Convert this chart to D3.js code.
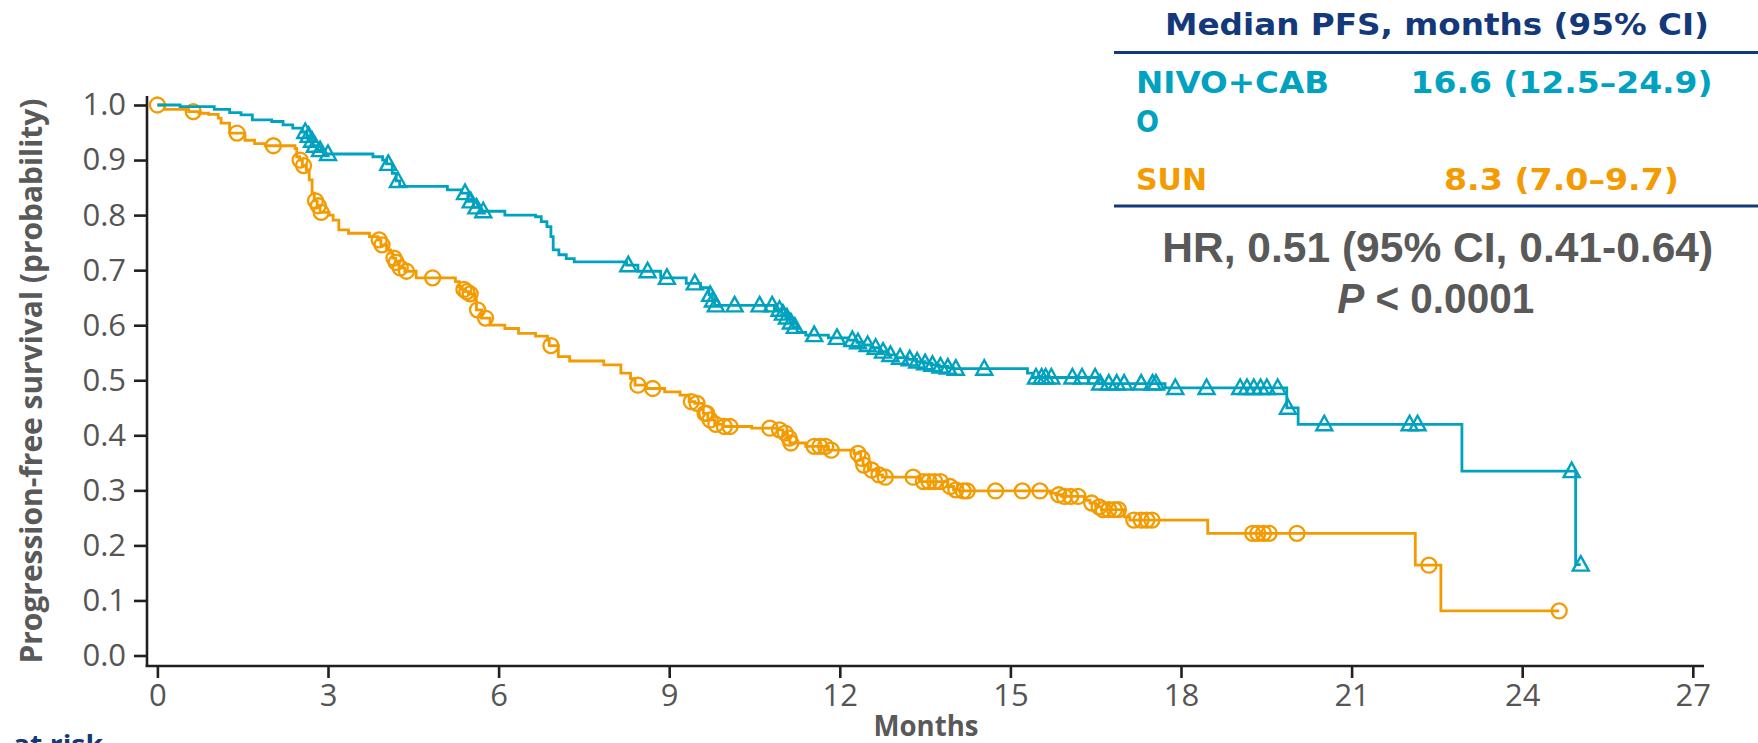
<!DOCTYPE html>
<html>
<head>
<meta charset="utf-8">
<script src="https://cdn.jsdelivr.net/npm/d3@7"></script>
<style>
  html, body { margin: 0; padding: 0; background: #fff; }
  svg { display: block; }
</style>
</head>
<body>
<svg id="chart" width="1758" height="743"></svg>
<script>
// ---------------- DATA ----------------
const xTickValues = [0, 3, 6, 9, 12, 15, 18, 21, 24, 27];
const yTickValues = [0, 0.1, 0.2, 0.3, 0.4, 0.5, 0.6, 0.7, 0.8, 0.9, 1.0];
const yTickLabels = ["0.0","0.1","0.2","0.3","0.4","0.5","0.6","0.7","0.8","0.9","1.0"];

const seriesNames = ["NIVO+CABO", "SUN"];
const medianLabels = ["16.6 (12.5\u201324.9)", "8.3 (7.0\u20139.7)"];
const hrText = "HR, 0.51 (95% CI, 0.41-0.64)";
const pText = "< 0.0001";

// NIVO+CABO Kaplan-Meier steps (months, survival after step)
const nivoStepTimes = [0, 0.40, 1.0, 1.27, 1.47, 1.67, 2.01, 2.21, 2.38, 2.55, 2.63, 2.69, 2.74, 2.82, 2.92,
  3.79, 3.96, 4.03, 4.13, 4.20, 4.26, 5.10, 5.35, 5.46, 5.56, 5.68, 6.11, 6.65, 6.75, 6.85, 6.92, 6.96,
  7.06, 7.19, 7.33, 8.25, 8.45, 8.85, 9.30, 9.55, 9.70, 9.76, 9.80, 10.85, 10.98, 11.05, 11.12, 11.18,
  11.25, 11.40, 11.80, 12.15, 12.30, 12.40, 12.55, 12.70, 12.85, 13.00, 13.20, 13.35, 13.50, 13.62,
  13.75, 13.90, 14.00, 15.30, 15.40, 16.55, 17.72, 19.86, 20.06, 22.94, 24.94];
const nivoStepSurv = [1.0, 0.997, 0.992, 0.986, 0.982, 0.973, 0.970, 0.964, 0.958, 0.951, 0.944, 0.935, 0.926, 0.918, 0.911,
  0.906, 0.900, 0.893, 0.876, 0.862, 0.852, 0.846, 0.840, 0.825, 0.814, 0.807, 0.800, 0.797, 0.788, 0.779, 0.761, 0.737,
  0.728, 0.721, 0.715, 0.709, 0.698, 0.686, 0.676, 0.668, 0.655, 0.645, 0.636, 0.628, 0.621, 0.614, 0.605, 0.597,
  0.587, 0.582, 0.577, 0.573, 0.569, 0.564, 0.559, 0.552, 0.546, 0.541, 0.538, 0.534, 0.531, 0.528,
  0.525, 0.523, 0.521, 0.513, 0.505, 0.494, 0.486, 0.450, 0.420, 0.335, 0.165];
const nivoCensor = [2.60, 2.66, 2.72, 2.77, 2.86, 3.00, 4.06, 4.23, 5.41, 5.51, 5.61, 5.73, 8.28, 8.62, 8.96,
  9.45, 9.72, 9.77, 9.82, 10.15, 10.59, 10.81, 10.94, 11.00, 11.07, 11.14, 11.21, 11.55, 11.95, 12.22, 12.32,
  12.49, 12.63, 12.76, 12.89, 13.06, 13.23, 13.36, 13.50, 13.63, 13.77, 13.90, 14.04, 14.54, 15.45, 15.55,
  15.62, 15.72, 16.09, 16.26, 16.49, 16.58, 16.73, 16.87, 17.00, 17.30, 17.50, 17.56, 17.90, 18.45, 19.04,
  19.16, 19.28, 19.40, 19.51, 19.70, 19.88, 20.52, 22.02, 22.16, 24.87, 25.03];

// SUN Kaplan-Meier steps
const sunStepTimes = [0, 0.13, 0.55, 0.73, 0.90, 1.07, 1.12, 1.27, 1.54, 1.71, 1.90, 2.42, 2.45, 2.50, 2.55,
  2.62, 2.67, 2.72, 2.76, 2.81, 2.86, 3.02, 3.09, 3.19, 3.36, 3.73, 3.88, 3.93, 4.03, 4.10, 4.14, 4.19, 4.25,
  4.35, 4.55, 5.24, 5.31, 5.36, 5.42, 5.47, 5.58, 5.61, 5.70, 5.85, 6.11, 6.35, 6.65, 6.86, 6.89, 7.05, 7.25,
  7.85, 8.15, 8.32, 8.40, 8.60, 8.92, 9.19, 9.35, 9.45, 9.60, 9.68, 9.80, 9.95, 10.45, 10.90, 11.00, 11.08,
  11.12, 11.40, 11.80, 12.25, 12.37, 12.41, 12.50, 12.65, 12.75, 13.40, 13.90, 14.00, 14.10, 15.70, 15.80,
  15.90, 16.30, 16.40, 16.50, 16.60, 17.00, 17.10, 18.47, 22.12, 22.57];
const sunStepSurv = [1.0, 0.992, 0.988, 0.985, 0.983, 0.976, 0.967, 0.949, 0.936, 0.930, 0.926, 0.921, 0.906, 0.900, 0.890,
  0.882, 0.864, 0.840, 0.826, 0.817, 0.805, 0.800, 0.791, 0.773, 0.767, 0.761, 0.755, 0.746, 0.737, 0.731, 0.722, 0.714, 0.704,
  0.698, 0.686, 0.679, 0.670, 0.665, 0.661, 0.657, 0.646, 0.628, 0.613, 0.600, 0.594, 0.585, 0.580, 0.573, 0.563, 0.543, 0.535,
  0.528, 0.513, 0.503, 0.491, 0.485, 0.479, 0.473, 0.461, 0.458, 0.440, 0.428, 0.420, 0.416, 0.413, 0.410, 0.404, 0.395,
  0.386, 0.380, 0.373, 0.367, 0.358, 0.346, 0.337, 0.328, 0.324, 0.316, 0.307, 0.301, 0.299, 0.295, 0.292,
  0.289, 0.282, 0.277, 0.270, 0.265, 0.252, 0.246, 0.222, 0.164, 0.081];
const sunCensor = [0, 0.63, 1.40, 2.04, 2.51, 2.57, 2.78, 2.83, 2.88, 3.90, 3.95, 4.16, 4.20, 4.27, 4.38, 4.84,
  5.39, 5.44, 5.50, 5.63, 5.77, 6.92, 8.45, 8.71, 9.39, 9.49, 9.63, 9.66, 9.72, 9.82, 9.97, 10.07, 10.77,
  10.94, 11.04, 11.11, 11.14, 11.55, 11.65, 11.75, 11.85, 12.32, 12.39, 12.42, 12.56, 12.69, 12.80, 13.29,
  13.47, 13.57, 13.67, 13.77, 13.94, 14.04, 14.17, 14.24, 14.74, 15.21, 15.52, 15.85, 15.95, 16.06, 16.19,
  16.43, 16.56, 16.63, 16.73, 16.83, 16.90, 17.17, 17.30, 17.40, 17.49, 19.26, 19.35, 19.45, 19.55, 20.04,
  22.36, 24.65];

// ---------------- STYLE ----------------
const TEAL = "#00a2bf";
const ORANGE = "#f39b00";
const NAVY = "#14397a";
const GRAY = "#595959";
const AXIS = "#231f20";

const svg = d3.select("#chart");
svg.append("rect").attr("width", 1758).attr("height", 743).attr("fill", "#fff");

const x = d3.scaleLinear().domain([0, 27]).range([157.4, 1692.8]);
const y = d3.scaleLinear().domain([0, 1]).range([655.5, 105]);

// ---------------- AXES ----------------
const yAxis = d3.axisLeft(y).tickValues(yTickValues)
  .tickFormat((d, i) => yTickLabels[i]).tickSize(13).tickPadding(8);
const gy = svg.append("g").attr("transform", "translate(147,0)").call(yAxis);
gy.select(".domain").remove();
gy.selectAll(".tick line").attr("stroke", AXIS).attr("stroke-width", 2.6);
gy.selectAll(".tick text").attr("fill", "#555").attr("font-family", "'Open Sans', sans-serif")
  .attr("font-size", 31);
svg.append("line").attr("x1", 147).attr("x2", 147).attr("y1", 96).attr("y2", 667)
  .attr("stroke", AXIS).attr("stroke-width", 2.6);

const xAxis = d3.axisBottom(x).tickValues(xTickValues).tickSize(12).tickPadding(6);
const gx = svg.append("g").attr("transform", "translate(0,666)").call(xAxis);
gx.select(".domain").remove();
gx.selectAll(".tick line").attr("stroke", AXIS).attr("stroke-width", 2.6);
gx.selectAll(".tick text").attr("fill", "#555").attr("font-family", "'Open Sans', sans-serif")
  .attr("font-size", 31);
svg.append("line").attr("x1", 145.7).attr("x2", 1704).attr("y1", 666).attr("y2", 666)
  .attr("stroke", AXIS).attr("stroke-width", 2.6);

// axis titles
svg.append("text").attr("x", 926).attr("y", 736).attr("text-anchor", "middle")
  .attr("font-family", "'Open Sans', sans-serif").attr("font-weight", 700).attr("font-size", 29)
  .attr("fill", GRAY).attr("textLength", 105).attr("lengthAdjust", "spacingAndGlyphs").text("Months");

svg.append("text").attr("transform", "translate(42,381) rotate(-90)").attr("text-anchor", "middle")
  .attr("font-family", "'Open Sans', sans-serif").attr("font-weight", 700).attr("font-size", 31)
  .attr("fill", GRAY).attr("textLength", 565).attr("lengthAdjust", "spacingAndGlyphs")
  .text("Progression-free survival (probability)");

svg.append("text").attr("x", 13).attr("y", 754)
  .attr("font-family", "'Open Sans', sans-serif").attr("font-weight", 700).attr("font-size", 27)
  .attr("fill", NAVY).attr("textLength", 90).attr("lengthAdjust", "spacingAndGlyphs").text("at risk");

// ---------------- CURVES ----------------
function stepFn(times, surv) {
  return t => { let v = surv[0]; for (let i = 0; i < times.length; i++) { if (times[i] <= t) v = surv[i]; } return v; };
}
const series = [
  { times: nivoStepTimes, surv: nivoStepSurv, censor: nivoCensor, color: TEAL, marker: "tri" },
  { times: sunStepTimes, surv: sunStepSurv, censor: sunCensor, color: ORANGE, marker: "circle" }
];
const line = d3.line().x(d => x(d[0])).y(d => y(d[1])).curve(d3.curveStepAfter);

series.slice().reverse().forEach(s => {
  const S = stepFn(s.times, s.surv);
  const pts = s.times.map((t, i) => [t, s.surv[i]]);
  const tEnd = Math.max(d3.max(s.censor), d3.max(s.times));
  pts.push([tEnd, S(tEnd)]);
  svg.append("path").attr("d", line(pts)).attr("fill", "none")
    .attr("stroke", s.color).attr("stroke-width", 2.8).attr("stroke-linejoin", "miter");
  const g = svg.append("g");
  if (s.marker === "circle") {
    g.selectAll("circle").data(s.censor).join("circle")
      .attr("cx", d => x(d)).attr("cy", d => y(S(d))).attr("r", 7.5)
      .attr("fill", "none").attr("stroke", s.color).attr("stroke-width", 2.3);
  } else {
    g.selectAll("path").data(s.censor).join("path")
      .attr("transform", d => `translate(${x(d)},${y(S(d))})`)
      .attr("d", "M0,-8.5L8,6L-8,6Z")
      .attr("fill", "none").attr("stroke", s.color).attr("stroke-width", 2.4).attr("stroke-linejoin", "miter");
  }
});

// ---------------- TABLE / LEGEND ----------------
const vfont = "'DejaVu Sans', Verdana, sans-serif";
svg.append("text").attr("x", 1437).attr("y", 35).attr("text-anchor", "middle")
  .attr("font-family", vfont).attr("font-weight", 700).attr("font-size", 30).attr("fill", NAVY)
  .attr("textLength", 544).attr("lengthAdjust", "spacingAndGlyphs").text("Median PFS, months (95% CI)");
svg.append("line").attr("x1", 1114).attr("x2", 1758).attr("y1", 52.5).attr("y2", 52.5)
  .attr("stroke", NAVY).attr("stroke-width", 3);
svg.append("line").attr("x1", 1114).attr("x2", 1758).attr("y1", 206).attr("y2", 206)
  .attr("stroke", NAVY).attr("stroke-width", 3);

const rowText = (txt, xx, yy, anchor, color, len) =>
  svg.append("text").attr("x", xx).attr("y", yy).attr("text-anchor", anchor)
    .attr("font-family", vfont).attr("font-weight", 700).attr("font-size", 31).attr("fill", color)
    .attr("textLength", len).attr("lengthAdjust", "spacingAndGlyphs").text(txt);

rowText(seriesNames[0].slice(0, 8), 1136, 93, "start", TEAL, 193);
rowText(seriesNames[0].slice(8), 1136, 132, "start", TEAL, 23);
rowText(medianLabels[0], 1561.6, 93, "middle", TEAL, 302);
rowText(seriesNames[1], 1136, 190, "start", ORANGE, 71);
rowText(medianLabels[1], 1561.5, 190, "middle", ORANGE, 235);

svg.append("text").attr("x", 1437.7).attr("y", 262).attr("text-anchor", "middle")
  .attr("font-family", "'Liberation Sans', Arial, sans-serif").attr("font-weight", 700).attr("font-size", 43)
  .attr("fill", GRAY).attr("textLength", 551).attr("lengthAdjust", "spacingAndGlyphs").text(hrText);

const pt = svg.append("text").attr("x", 1435.7).attr("y", 313).attr("text-anchor", "middle")
  .attr("font-family", "'Liberation Sans', Arial, sans-serif").attr("font-weight", 700).attr("font-size", 43)
  .attr("fill", GRAY).attr("textLength", 197).attr("lengthAdjust", "spacingAndGlyphs");
pt.append("tspan").attr("font-style", "italic").text("P");
pt.append("tspan").text(" " + pText);
</script>
</body>
</html>
